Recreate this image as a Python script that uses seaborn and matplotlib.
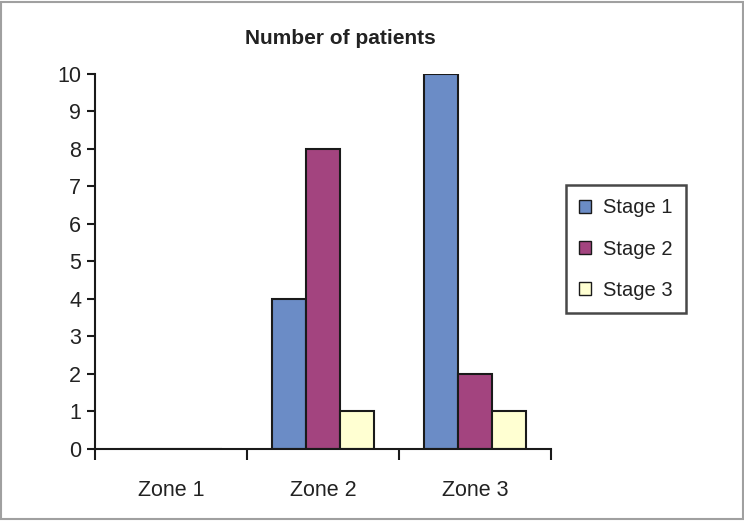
import matplotlib
matplotlib.use("Agg")
import matplotlib.pyplot as plt
import matplotlib.patches as mpatches
import pandas as pd
import seaborn as sns

zones = ["Zone 1", "Zone 2", "Zone 3"]
stages = ["Stage 1", "Stage 2", "Stage 3"]
stage1 = [0, 4, 10]
stage2 = [0, 8, 2]
stage3 = [0, 1, 1]
colors = ["#6b8cc6", "#a3447f", "#ffffd2"]

rows = []
for stage, vals in zip(stages, [stage1, stage2, stage3]):
    for zone, v in zip(zones, vals):
        rows.append({"zone": zone, "stage": stage, "patients": v})
data = pd.DataFrame(rows)

sns.set_style("white")
plt.rcParams["font.family"] = ["Liberation Sans", "DejaVu Sans"]

fig = plt.figure(figsize=(7.44, 5.21), dpi=100)
ax = fig.add_axes([0.1277, 0.1382, 0.6129, 0.7198])

sns.barplot(data=data, x="zone", y="patients", hue="stage", palette=colors,
            width=0.67, edgecolor="#1a1a1a", linewidth=1.5, saturation=1,
            ax=ax, legend=False)

ax.set_ylim(0, 10)
ax.set_xlim(-0.5, 2.5)
ax.set_yticks(range(0, 11))
ax.set_xlabel("")
ax.set_ylabel("")
for side in ["top", "right"]:
    ax.spines[side].set_visible(False)
for side in ["left", "bottom"]:
    ax.spines[side].set_color("#1a1a1a")
    ax.spines[side].set_linewidth(1.5)

ax.tick_params(axis="y", direction="out", length=6, width=1.5, color="#1a1a1a",
               labelsize=15.5, pad=4, left=True)
ax.set_xticks([-0.5, 0.5, 1.5, 2.5], minor=True)
ax.tick_params(axis="x", which="minor", direction="out", length=8, width=1.5,
               color="#1a1a1a", bottom=True)
ax.tick_params(axis="x", which="major", length=0, labelsize=15.5, pad=22)
for lbl in ax.get_xticklabels() + ax.get_yticklabels():
    lbl.set_color("#222222")

fig.text(0.457, 0.927, "Number of patients", ha="center", va="center",
         fontsize=15, fontweight="bold", color="#222222")

handles = [mpatches.Patch(facecolor=c, edgecolor="#1a1a1a", linewidth=1, label=s)
           for c, s in zip(colors, stages)]
leg = fig.legend(handles=handles, loc="center left",
                 bbox_to_anchor=(0.761, 0.522), bbox_transform=fig.transFigure,
                 fontsize=14.5, frameon=True, fancybox=False, borderaxespad=0,
                 handlelength=0.6, handleheight=0.6, handletextpad=0.6,
                 labelspacing=1.1, borderpad=0.65)
leg.get_frame().set_edgecolor("#1a1a1a")
leg.get_frame().set_linewidth(1.8)
for t in leg.get_texts():
    t.set_color("#222222")

fig.patches.append(mpatches.Rectangle((0.002, 0.003), 0.996, 0.994,
                                      transform=fig.transFigure, fill=False,
                                      edgecolor="#a0a0a0", linewidth=1.5))

fig.savefig("out.png", dpi=100)
